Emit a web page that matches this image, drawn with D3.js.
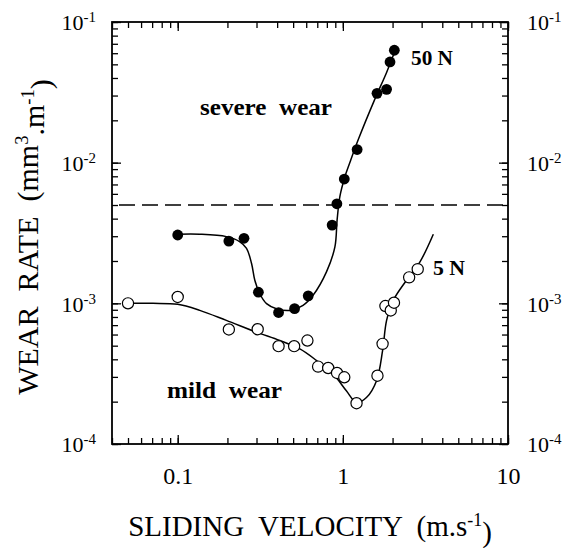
<!DOCTYPE html>
<html>
<head>
<meta charset="utf-8">
<script src="https://cdn.jsdelivr.net/npm/d3@7"></script>
<style>
  html, body { margin: 0; padding: 0; background: #fff; }
  svg { display: block; }
  svg text { font-family: "Liberation Serif", "Times New Roman", Times, "DejaVu Serif", serif; }
</style>
</head>
<body>
<svg id="chart" width="565" height="548"></svg>
<script>
// measured points, 50 N load (filled circles)
const load50Speed = [0.1, 0.204, 0.252, 0.308, 0.408, 0.51, 0.617, 0.861, 0.92, 1.02, 1.22, 1.61, 1.84, 1.93, 2.05];
const load50Rate = [3.06e-3, 2.77e-3, 2.9e-3, 1.2e-3, 0.86e-3, 0.916e-3, 1.13e-3, 3.6e-3, 5.1e-3, 7.65e-3, 1.24e-2, 3.11e-2, 3.32e-2, 5.2e-2, 6.3e-2];

// measured points, 5 N load (open circles)
const load5Speed = [0.05, 0.1, 0.204, 0.305, 0.408, 0.507, 0.61, 0.708, 0.815, 0.922, 1.02, 1.21, 1.62, 1.74, 1.81, 1.95, 2.04, 2.52, 2.84];
const load5Rate = [1.0e-3, 1.11e-3, 0.652e-3, 0.655e-3, 0.496e-3, 0.496e-3, 0.544e-3, 0.355e-3, 0.347e-3, 0.32e-3, 0.298e-3, 0.195e-3, 0.306e-3, 0.515e-3, 0.957e-3, 0.89e-3, 1.01e-3, 1.53e-3, 1.75e-3];

// hand drawn trend curves
const fit50Speed = [0.101, 0.136, 0.197, 0.238, 0.261, 0.28, 0.293, 0.314, 0.345, 0.396, 0.478, 0.574, 0.66, 0.797, 0.895, 0.923, 0.959, 1.03, 1.1, 1.24, 1.56, 1.84, 2.07];
const fit50Rate = [3.1e-3, 3.1e-3, 2.98e-3, 2.74e-3, 2.46e-3, 1.92e-3, 1.46e-3, 1.17e-3, 0.995e-3, 0.916e-3, 0.89e-3, 0.967e-3, 1.14e-3, 1.68e-3, 2.52e-3, 3.92e-3, 5.74e-3, 7.98e-3, 9.95e-3, 1.46e-2, 2.82e-2, 4.38e-2, 6.24e-2];

const fit5Speed = [0.05, 0.0708, 0.1, 0.136, 0.197, 0.3, 0.415, 0.549, 0.693, 0.873, 1.05, 1.21, 1.39, 1.6, 1.74, 1.84, 2.02, 2.43, 2.93, 3.53];
const fit5Rate = [1.0e-3, 1.0e-3, 0.984e-3, 0.891e-3, 0.756e-3, 0.624e-3, 0.544e-3, 0.474e-3, 0.392e-3, 0.315e-3, 0.239e-3, 0.197e-3, 0.214e-3, 0.282e-3, 0.461e-3, 0.756e-3, 1.05e-3, 1.46e-3, 1.97e-3, 3.1e-3];

// mild / severe transition
const transitionRate = 5e-3;

// tick labels
const xTickValues = [0.1, 1, 10];
const xTickLabels = ["0.1", "1", "10"];
const yTickValues = [1e-4, 1e-3, 1e-2, 1e-1];
const yTickExps = ["-4", "-3", "-2", "-1"];

const serif = "Liberation Serif, Times New Roman, DejaVu Serif, serif";
const plotLeft = 112, plotRight = 508, plotTop = 22, plotBottom = 444;

const svg = d3.select("svg#chart");

const x = d3.scaleLog()
    .domain([0.04, 10])
    .range([plotLeft, plotRight]);

const y = d3.scaleLog()
    .domain([1e-4, 1e-1])
    .range([plotBottom, plotTop]);

// minor + major ticks for one side of the frame
function frameAxis(axisFn, scale, translate, labels) {
    const g = svg.append("g")
        .attr("transform", translate);

    // minor ticks
    g.append("g")
        .call(axisFn(scale)
            .tickValues(scale.ticks())
            .tickSizeInner(-6)
            .tickSizeOuter(0)
            .tickFormat(""))
        .call(a => a.select(".domain").remove());

    // major ticks with labels
    const major = g.append("g")
        .call(labels(axisFn(scale)).tickSizeOuter(0))
        .call(a => a.select(".domain").remove());

    g.selectAll("g").attr("font-family", serif);
    g.selectAll("line")
        .attr("stroke", "#000")
        .attr("stroke-width", 1.3);

    return major;
}

// superscript labels "10^-n"
function powerLabel(sel) {
    sel.each(function (d) {
        const t = d3.select(this).text(null);
        t.append("tspan").text("10");
        t.append("tspan")
            .attr("dy", "-0.55em")
            .attr("font-size", "0.68em")
            .text(yTickExps[yTickValues.indexOf(d)]);
    });
}

// bottom axis
frameAxis(d3.axisBottom, x, `translate(0,${plotBottom})`, a => a
        .tickValues(xTickValues)
        .tickSizeInner(-9)
        .tickPadding(23)
        .tickFormat((d, i) => xTickLabels[i]))
    .selectAll("text")
    .attr("font-size", 24)
    .attr("fill", "#000");

// top axis
frameAxis(d3.axisTop, x, `translate(0,${plotTop})`, a => a
        .tickValues(xTickValues)
        .tickSizeInner(-9)
        .tickFormat(""));

// left axis
frameAxis(d3.axisLeft, y, `translate(${plotLeft},0)`, a => a
        .tickValues(yTickValues)
        .tickSizeInner(-9)
        .tickPadding(16))
    .selectAll("text")
    .attr("font-size", 22)
    .attr("fill", "#000")
    .attr("dy", "0.36em")
    .call(powerLabel);

// right axis
frameAxis(d3.axisRight, y, `translate(${plotRight},0)`, a => a
        .tickValues(yTickValues)
        .tickSizeInner(-9)
        .tickPadding(19))
    .selectAll("text")
    .attr("font-size", 22)
    .attr("fill", "#000")
    .attr("dy", "0.36em")
    .call(powerLabel);

// plot frame
svg.append("rect")
    .attr("x", plotLeft)
    .attr("y", plotTop)
    .attr("width", plotRight - plotLeft)
    .attr("height", plotBottom - plotTop)
    .attr("fill", "none")
    .attr("stroke", "#000")
    .attr("stroke-width", 1.8);

// dashed transition line
svg.append("line")
    .attr("x1", x(x.domain()[0]))
    .attr("x2", x(x.domain()[1]))
    .attr("y1", y(transitionRate))
    .attr("y2", y(transitionRate))
    .attr("stroke", "#000")
    .attr("stroke-width", 1.3)
    .attr("stroke-dasharray", "16,7")
    .attr("stroke-dashoffset", -7);

// trend curves
const line = d3.line()
    .x(d => x(d[0]))
    .y(d => y(d[1]))
    .curve(d3.curveCatmullRom.alpha(0.5));

svg.append("path")
    .datum(d3.zip(fit50Speed, fit50Rate))
    .attr("d", line)
    .attr("fill", "none")
    .attr("stroke", "#000")
    .attr("stroke-width", 1.5);

svg.append("path")
    .datum(d3.zip(fit5Speed, fit5Rate))
    .attr("d", line)
    .attr("fill", "none")
    .attr("stroke", "#000")
    .attr("stroke-width", 1.5);

// 5 N points, open
svg.append("g")
    .selectAll("circle")
    .data(d3.zip(load5Speed, load5Rate))
    .enter()
    .append("circle")
    .attr("cx", d => x(d[0]))
    .attr("cy", d => y(d[1]))
    .attr("r", 5.6)
    .attr("fill", "#fff")
    .attr("stroke", "#000")
    .attr("stroke-width", 1.2);

// 50 N points, filled
svg.append("g")
    .selectAll("circle")
    .data(d3.zip(load50Speed, load50Rate))
    .enter()
    .append("circle")
    .attr("cx", d => x(d[0]))
    .attr("cy", d => y(d[1]))
    .attr("r", 5.4)
    .attr("fill", "#000");

// annotations
const notes = [
    {text: "severe  wear", x: 200, y: 115, size: 24, width: 132},
    {text: "mild  wear", x: 167, y: 398, size: 24, width: 115},
    {text: "50 N", x: 411, y: 65, size: 22, width: 42},
    {text: "5 N", x: 433, y: 275, size: 22, width: 32}
];

svg.append("g")
    .selectAll("text")
    .data(notes)
    .enter()
    .append("text")
    .attr("x", d => d.x)
    .attr("y", d => d.y)
    .attr("font-size", d => d.size)
    .attr("font-weight", "bold")
    .attr("textLength", d => d.width)
    .attr("lengthAdjust", "spacingAndGlyphs")
    .style("white-space", "pre")
    .text(d => d.text);

// axis titles
const xTitle = svg.append("text")
    .attr("x", (plotLeft + plotRight) / 2)
    .attr("y", 536)
    .attr("text-anchor", "middle")
    .attr("font-size", 29)
    .style("white-space", "pre");
xTitle.append("tspan").text("SLIDING  VELOCITY  (m.s");
xTitle.append("tspan").attr("dy", "-0.55em").attr("font-size", "0.62em").text("-1");
xTitle.append("tspan").attr("dy", "0.55em").text(")");

const yTitle = svg.append("text")
    .attr("transform", `translate(38,${(plotTop + plotBottom) / 2 + 4}) rotate(-90)`)
    .attr("text-anchor", "middle")
    .attr("font-size", 30)
    .style("white-space", "pre");
yTitle.append("tspan").text("WEAR  RATE  (mm");
yTitle.append("tspan").attr("dy", "-0.55em").attr("font-size", "0.62em").text("3");
yTitle.append("tspan").attr("dy", "0.55em").text(".m");
yTitle.append("tspan").attr("dy", "-0.55em").attr("font-size", "0.62em").text("-1");
yTitle.append("tspan").attr("dy", "0.55em").text(")");
</script>
</body>
</html>
